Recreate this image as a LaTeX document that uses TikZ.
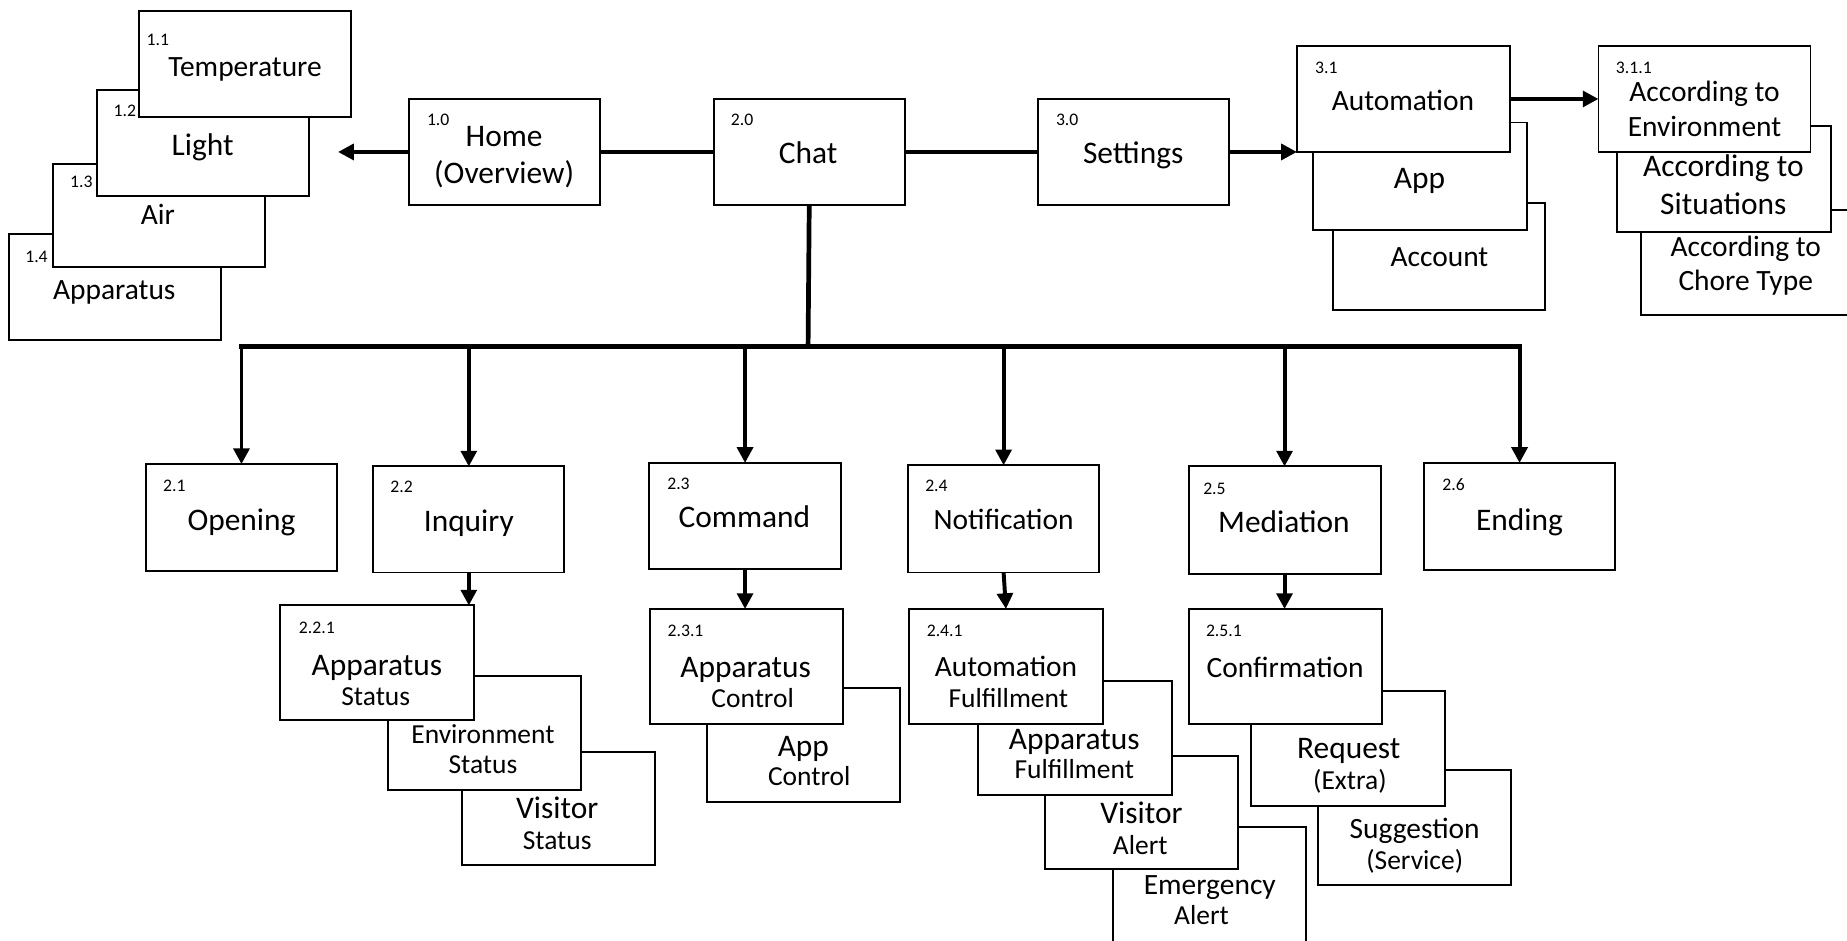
\documentclass[tikz,border=0pt]{standalone}
\usepackage{fontspec}
\setmainfont{Carlito}
\usetikzlibrary{arrows.meta}
\tikzset{
  box/.style={draw, line width=1pt, fill=white, inner sep=0pt, outer sep=0pt},
  lbl/.style={inner sep=0pt, anchor=base},
  conn/.style={line width=2.4pt},
  arr/.style={line width=2pt, -{Triangle[length=8pt,width=8pt]}},
  harr/.style={line width=2.4pt, -{Triangle[length=8pt,width=8pt]}},
}
\newcommand{\mkbox}[5]{\node[box, minimum width={(#4-#2)*0.6pt}, minimum height={(#5-#3)*0.6pt}] (#1) at ({(#2+#4)/2},{(#3+#5)/2}) {};}
\newcommand{\mktext}[5]{\node[lbl, font=\fontsize{#4}{#4}\selectfont] (#1) at (#2,{#3+0.57*#4}) {#5};}
\newcommand{\mknum}[4]{\node[lbl, font=\fontsize{9}{9}\selectfont] (#1) at (#2,{#3+5.5}) {#4};}
\begin{document}
\begin{tikzpicture}[x=0.6pt, y=-0.6pt]
\useasboundingbox (0,0) rectangle (1568,798);
\clip (0,0) rectangle (1568,798);
% 1.x stack
\mkbox{b14}{8}{199}{188}{289}
\mknum{n14}{31}{217}{1.4}
\mktext{t14}{97}{246}{15}{Apparatus}
\mkbox{b13}{45}{139}{225}{227}
\mknum{n13}{69}{154}{1.3}
\mktext{t13}{134}{182}{15}{Air}
\mkbox{b12}{82}{76}{262}{166}
\mknum{n12}{106}{93}{1.2}
\mktext{t12}{172}{123}{16}{Light}
\mkbox{b11}{118}{9}{298}{99}
\mknum{n11}{134}{33}{1.1}
\mktext{t11}{208}{56}{15}{Temperature}
% top level
\mkbox{home}{347}{84}{509}{174}
\mknum{n10}{372}{101}{1.0}
\mktext{home1}{428}{115}{16}{Home}
\mktext{home2}{428}{147}{16}{(Overview)}
\mkbox{chat}{606}{84}{768}{174}
\mknum{n20}{630}{101}{2.0}
\mktext{chatt}{686}{130}{16}{Chat}
\mkbox{settings}{881}{84}{1043}{174}
\mknum{n30}{906}{101}{3.0}
\mktext{sett}{962}{130}{16}{Settings}
% 3.1 stack
\mkbox{acct}{1132}{172}{1312}{263}
\mktext{acctt}{1222}{218}{15}{Account}
\mkbox{app}{1115}{104}{1296}{195}
\mktext{appt}{1205}{151}{16}{App}
\mkbox{auto}{1101}{39}{1282}{129}
\mknum{n31}{1126}{57}{3.1}
\mktext{autot}{1191}{85}{15}{Automation}
% 3.1.1 stack
\mkbox{chore}{1393}{178}{1640}{267}
\mktext{chore1}{1482}{209}{15}{According to}
\mktext{chore2}{1482}{238}{15}{Chore Type}
\mkbox{situ}{1373}{107}{1554}{197}
\mktext{situ1}{1463}{141}{16}{According to}
\mktext{situ2}{1463}{173}{16}{Situations}
\mkbox{envr}{1357}{39}{1537}{129}
\mknum{n311}{1387}{57}{3.1.1}
\mktext{envr1}{1447}{78}{15}{According to}
\mktext{envr2}{1447}{107}{15}{Environment}
% level 2
\mkbox{open}{124}{394}{286}{485}
\mknum{n21}{148}{412}{2.1}
\mktext{opent}{205}{441}{16}{Opening}
\mkbox{inq}{317}{396}{479}{486}
\mknum{n22}{341}{413}{2.2}
\mktext{inqt}{398}{442}{16}{Inquiry}
\mkbox{cmd}{551}{393}{714}{483}
\mknum{n23}{576}{410}{2.3}
\mktext{cmdt}{632}{439}{16}{Command}
\mkbox{notif}{771}{395}{933}{486}
\mknum{n24}{795}{412}{2.4}
\mktext{notift}{852}{441}{15}{Notification}
\mkbox{med}{1009}{396}{1172}{487}
\mknum{n25}{1031}{414}{2.5}
\mktext{medt}{1090}{443}{16}{Mediation}
\mkbox{ending}{1209}{393}{1371}{484}
\mknum{n26}{1234}{411}{2.6}
\mktext{endingt}{1290}{441}{16}{Ending}
% inquiry stack
\mkbox{vstat}{392}{638}{556}{734}
\mktext{vstat1}{473}{686}{16}{Visitor}
\mktext{vstat2}{473}{713}{14}{Status}
\mkbox{estat}{329}{574}{493}{671}
\mktext{estat1}{410}{623}{14}{Environment}
\mktext{estat2}{410}{649}{14}{Status}
\mkbox{astat}{238}{514}{402}{611}
\mknum{n221}{269}{532}{2.2.1}
\mktext{astat1}{320}{564}{16}{Apparatus}
\mktext{astat2}{319}{591}{14}{Status}
% command stack
\mkbox{actrl}{600}{584}{764}{681}
\mktext{actrl1}{682}{633}{16}{App}
\mktext{actrl2}{687}{659}{14}{Control}
\mkbox{pctrl}{552}{517}{716}{615}
\mknum{n231}{582}{535}{2.3.1}
\mktext{pctrl1}{633}{566}{16}{Apparatus}
\mktext{pctrl2}{639}{593}{14}{Control}
% notification stack
\mkbox{emerg}{945}{702}{1109}{830}
\mktext{emerg1}{1027}{751}{15}{Emergency}
\mktext{emerg2}{1020}{777}{14}{Alert}
\mkbox{valert}{887}{642}{1051}{738}
\mktext{valert1}{969}{690}{16}{Visitor}
\mktext{valert2}{968}{717}{14}{Alert}
\mkbox{afull}{830}{578}{995}{675}
\mktext{afull1}{912}{627}{16}{Apparatus}
\mktext{afull2}{912}{653}{14}{Fulfillment}
\mkbox{autof}{772}{517}{936}{615}
\mknum{n241}{802}{535}{2.4.1}
\mktext{autof1}{854}{566}{15}{Automation}
\mktext{autof2}{856}{593}{14}{Fulfillment}
% mediation stack
\mkbox{sugg}{1119}{654}{1283}{751}
\mktext{sugg1}{1201}{703}{15}{Suggestion}
\mktext{sugg2}{1201}{730}{14}{(Service)}
\mkbox{req}{1062}{587}{1227}{684}
\mktext{req1}{1145}{635}{16}{Request}
\mktext{req2}{1146}{662}{14}{(Extra)}
\mkbox{conf}{1009}{517}{1173}{615}
\mknum{n251}{1039}{535}{2.5.1}
\mktext{conft}{1091}{567}{15}{Confirmation}
% connectors
\coordinate (homeTip) at (287,129);
\coordinate (bus) at (686,294);
\draw[harr] (home.west) -- (homeTip);
\draw[conn] (home.east) -- (chat.west);
\draw[conn] (chat.east) -- (settings.west);
\draw[harr] (settings.east) -- (settings.east -| auto.west);
\draw[harr] (auto.east) -- (envr.west);
\draw[conn] (chat.south) -- (bus);
\draw[conn, line cap=rect] (open.north |- bus) -- (ending.north |- bus);
\foreach \n in {open,inq,cmd,notif,med,ending}
  \draw[arr] (\n.north |- bus) -- (\n.north);
\draw[arr] (inq.south) -- (inq.south |- astat.north);
\draw[arr] (cmd.south) -- (cmd.south |- pctrl.north);
\draw[arr] (notif.south) -- (autof.north);
\draw[arr] (med.south) -- (med.south |- conf.north);
\end{tikzpicture}
\end{document}
